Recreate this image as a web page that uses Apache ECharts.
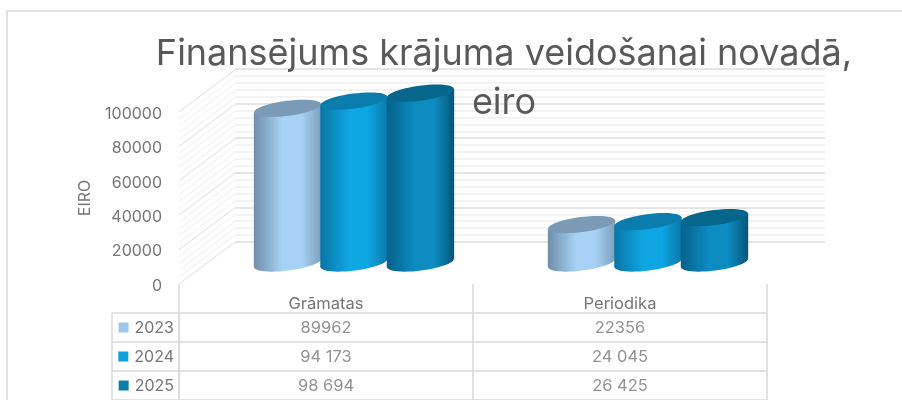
<!DOCTYPE html>
<html>
<head>
<meta charset="utf-8">
<script src="https://cdn.jsdelivr.net/npm/echarts@6/dist/echarts.min.js"></script>
<style>
  html, body { margin: 0; padding: 0; background: #fff; }
  #chart { width: 902px; height: 400px; }
</style>
</head>
<body>
<div id="chart"></div>
<script>
// Chart data
const categories = ['Grāmatas', 'Periodika'];
const years = ['2023', '2024', '2025'];
const values2023 = [89962, 22356];
const values2024 = [94173, 24045];
const values2025 = [98694, 26425];
// Table cells keep the spacing used in the original table
const cells2023 = ['89962', '22356'];
const cells2024 = ['94 173', '24 045'];
const cells2025 = ['98 694', '26 425'];
// Side wall lines, major ones every 20000 and minor ones in between
const wallTicks = [0, 4000, 8000, 12000, 16000, 20000, 24000, 28000, 32000, 36000, 40000, 44000, 48000,
    52000, 56000, 60000, 64000, 68000, 72000, 76000, 80000, 84000, 88000, 92000, 96000, 100000];

const allValues = [values2023, values2024, values2025];
const allCells = [cells2023, cells2024, cells2025];
const fontName = 'Inter';
const gridColor = '#d9d9d9';
const textColor = '#757575';

// Colours of each year's cylinder: side shading, lid and table key
const barStyles = [
    { edgeL: '#6f8eaa', mid: '#a7d2f5', edgeR: '#7d9fbe', top: '#7a9ab6', key: '#9dc8ea' },
    { edgeL: '#0a74a3', mid: '#0ea6e3', edgeR: '#0a78a9', top: '#0a7dad', key: '#0ea0dc' },
    { edgeL: '#05618a', mid: '#0d8cc2', edgeR: '#045677', top: '#06668c', key: '#0b7fab' }
];

// Pixel offset that fakes the 3D depth of the chart
const depthX = 56;
const depthY = -42;

// Draw one cylinder from the category and the value
function cylinder(seriesIndex) {
    return function (params, api) {
        const style = barStyles[seriesIndex];
        const bandWidth = api.size([1, 0])[0];
        const barWidth = bandWidth * 0.226;
        const rx = barWidth / 2 + 0.5;
        const ry = 7.5;
        const tilt = 0.13;
        const dy = rx * Math.sin(tilt);
        const base = api.coord([api.value(0), 0]);
        const head = api.coord([api.value(0), api.value(1)]);
        const cx = base[0] + depthX / 2 + (seriesIndex - 1) * barWidth;
        const baseY = base[1] + depthY / 2;
        const headY = head[1] + depthY / 2;
        const fill = new echarts.graphic.LinearGradient(0, 0, 1, 0, [
            { offset: 0, color: style.edgeL },
            { offset: 0.42, color: style.mid },
            { offset: 0.7, color: style.mid },
            { offset: 1, color: style.edgeR }
        ]);
        return {
            type: 'group',
            children: [
                {
                    type: 'ellipse',
                    x: cx, y: baseY, rotation: tilt,
                    shape: { cx: 0, cy: 0, rx: rx, ry: ry },
                    style: { fill: fill }
                },
                {
                    type: 'polygon',
                    shape: { points: [
                        [cx - rx, headY + dy], [cx + rx, headY - dy],
                        [cx + rx, baseY - dy], [cx - rx, baseY + dy]
                    ] },
                    style: { fill: fill }
                },
                {
                    type: 'ellipse',
                    x: cx, y: headY, rotation: tilt,
                    shape: { cx: 0, cy: 0, rx: rx, ry: ry },
                    style: { fill: style.top }
                }
            ]
        };
    };
}

// Diagonal lines on the left side wall
function sideWallLine(params, api) {
    const y = api.coord([0, api.value(0)])[1];
    const x = params.coordSys.x;
    const major = api.value(0) % 20000 === 0;
    return {
        type: 'line',
        shape: { x1: x, y1: y, x2: x + depthX, y2: y + depthY },
        style: { stroke: major ? '#dddddd' : '#efefef', lineWidth: 1 }
    };
}

const barSeries = allValues.map((values, s) => ({
    name: years[s],
    type: 'custom',
    xAxisIndex: 0,
    yAxisIndex: 0,
    clip: false,
    z: 5,
    renderItem: cylinder(s),
    encode: { x: 0, y: 1 },
    data: values.map((v, i) => [i, v])
}));

// Numbers inside the table
const tableCells = [];
allCells.forEach((row, r) => {
    row.forEach((text, c) => tableCells.push([c, r, text]));
});

const option = {
    animation: false,
    backgroundColor: '#fff',
    textStyle: { fontFamily: fontName },
    title: {
        text: 'Finansējums krājuma veidošanai novadā,\neiro',
        left: 499,
        top: 25,
        textAlign: 'center',
        z: 10,
        textStyle: {
            fontFamily: fontName,
            fontSize: 36,
            fontWeight: 'normal',
            color: '#595959',
            lineHeight: 49
        }
    },
    graphic: [
        {
            type: 'rect',
            shape: { x: 7, y: 11, width: 1000, height: 500 },
            style: { fill: 'none', stroke: gridColor, lineWidth: 1.5 },
            silent: true
        },
        {
            type: 'line',
            shape: { x1: 112, y1: 313, x2: 112, y2: 400 },
            style: { stroke: gridColor, lineWidth: 1.5 },
            silent: true
        }
    ],
    grid: [
        // Front plane: value labels, bars and category labels
        { left: 179, right: 135, top: 112, height: 172 },
        // Back wall with the gridlines
        { left: 235, right: 77, top: 69, height: 173 },
        // Data table under the chart
        { left: 179, right: 135, top: 313, height: 90 }
    ],
    xAxis: [
        {
            type: 'category',
            gridIndex: 0,
            data: categories,
            axisLine: { show: false },
            axisTick: { show: true, length: 29, lineStyle: { color: gridColor, width: 1.5 } },
            axisLabel: { color: textColor, fontFamily: fontName, fontSize: 16.5, margin: 12 }
        },
        {
            type: 'category',
            gridIndex: 1,
            data: categories,
            axisLine: { show: false },
            axisTick: { show: false },
            axisLabel: { show: false }
        },
        {
            type: 'category',
            gridIndex: 2,
            data: categories,
            axisLine: { show: false },
            axisTick: { show: false },
            axisLabel: { show: false },
            splitLine: { show: true, interval: 0, lineStyle: { color: gridColor, width: 1.5 } }
        }
    ],
    yAxis: [
        {
            type: 'value',
            gridIndex: 0,
            min: 0,
            max: 100000,
            interval: 20000,
            name: 'EIRO',
            nameLocation: 'middle',
            nameGap: 86,
            nameRotate: 90,
            nameTextStyle: { color: textColor, fontFamily: fontName, fontSize: 16 },
            axisLine: { show: false },
            axisTick: { show: false },
            splitLine: { show: false },
            axisLabel: {
                margin: 17,
                formatter: v => '{v|' + v + '}',
                rich: {
                    v: { color: textColor, fontFamily: fontName, fontSize: 16, padding: [4, 0, 0, 0] }
                }
            }
        },
        {
            type: 'value',
            gridIndex: 1,
            min: 0,
            max: 100000,
            interval: 20000,
            axisLine: { show: false },
            axisTick: { show: false },
            axisLabel: { show: false },
            minorTick: { show: false, splitNumber: 5 },
            splitLine: { show: true, lineStyle: { color: '#dddddd', width: 1.5 } },
            minorSplitLine: { show: true, lineStyle: { color: '#efefef', width: 1.5 } }
        },
        {
            type: 'category',
            gridIndex: 2,
            inverse: true,
            data: years,
            axisLine: { show: true, lineStyle: { color: gridColor, width: 1.5 } },
            axisTick: { show: true, length: 67, lineStyle: { color: gridColor, width: 1.5 } },
            splitLine: { show: true, interval: 0, lineStyle: { color: gridColor, width: 1.5 } },
            axisLabel: {
                margin: 5,
                formatter: function (value, index) {
                    return '{k' + index + '|}{y|' + value + '}';
                },
                rich: {
                    k0: { width: 10, height: 10, backgroundColor: barStyles[0].key },
                    k1: { width: 10, height: 10, backgroundColor: barStyles[1].key },
                    k2: { width: 10, height: 10, backgroundColor: barStyles[2].key },
                    y: { color: textColor, fontFamily: fontName, fontSize: 16, padding: [2, 0, 0, 6] }
                }
            }
        }
    ],
    series: [
        {
            name: 'side wall',
            type: 'custom',
            xAxisIndex: 0,
            yAxisIndex: 0,
            clip: false,
            silent: true,
            z: 1,
            renderItem: sideWallLine,
            encode: { y: 0 },
            data: wallTicks.map(v => [v])
        },
        ...barSeries,
        {
            name: 'table',
            type: 'scatter',
            xAxisIndex: 2,
            yAxisIndex: 2,
            symbolSize: 0,
            silent: true,
            data: tableCells,
            label: {
                show: true,
                position: 'inside',
                offset: [0, 1],
                color: textColor,
                fontFamily: fontName,
                fontSize: 16.5,
                formatter: p => p.value[2]
            }
        }
    ]
};

const myChart = echarts.init(document.getElementById('chart'));
myChart.setOption(option);
</script>
</body>
</html>
